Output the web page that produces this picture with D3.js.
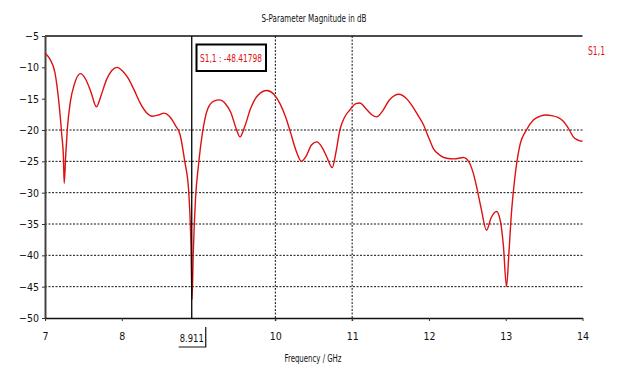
<!DOCTYPE html>
<html>
<head>
<meta charset="utf-8">
<script src="https://cdn.jsdelivr.net/npm/d3@7"></script>
<style>
  body { margin: 0; background: #fff; }
  text { font-family: "DejaVu Sans Condensed", "Liberation Sans Narrow", "Liberation Sans", sans-serif; }
</style>
</head>
<body>
<svg id="chart" width="627" height="367"></svg>
<script>
// ---- data ----
const freqGHz = [
  7.00, 7.06, 7.13, 7.18, 7.22, 7.24, 7.25, 7.27, 7.29, 7.33, 7.38, 7.46, 7.53, 7.60, 7.67,
  7.73, 7.80, 7.87, 7.94, 8.01, 8.08, 8.16, 8.24, 8.32, 8.40, 8.48, 8.55, 8.62, 8.70, 8.76,
  8.82, 8.87, 8.90, 8.915, 8.93, 8.96, 9.00, 9.05, 9.12, 9.20, 9.27, 9.35, 9.42, 9.49, 9.54,
  9.60, 9.68, 9.77, 9.89, 9.98, 10.06, 10.13, 10.20, 10.27, 10.34, 10.40, 10.47, 10.54, 10.61,
  10.67, 10.74, 10.79, 10.84, 10.90, 10.97, 11.05, 11.10, 11.18, 11.26, 11.32, 11.40, 11.48,
  11.55, 11.61, 11.70, 11.79, 11.86, 11.93, 12.00, 12.06, 12.14, 12.23, 12.33, 12.45, 12.53,
  12.58, 12.62, 12.68, 12.75, 12.81, 12.88, 12.93, 12.97, 13.01, 13.04, 13.07, 13.12, 13.18,
  13.27, 13.36, 13.45, 13.52, 13.60, 13.68, 13.75, 13.82, 13.88, 13.94, 14.00
];
const s11dB = [
  -7.7, -8.6, -10.9, -15.5, -21.0, -24.3, -28.5, -24.0, -20.0, -15.5, -12.8, -11.0, -11.9, -14.0, -16.3,
  -14.5, -12.0, -10.5, -10.0, -10.6, -11.7, -13.6, -15.7, -17.2, -17.8, -17.6, -17.3, -17.8, -19.3, -20.8,
  -25.0, -29.5, -38.0, -47.0, -40.0, -31.0, -25.5, -20.5, -16.6, -15.4, -15.2, -15.8, -17.2, -19.8, -21.1,
  -19.5, -16.5, -14.5, -13.7, -14.3, -15.8, -17.8, -20.5, -23.3, -25.0, -24.2, -22.4, -21.9, -22.8,
  -24.3, -26.0, -23.5, -20.0, -18.0, -16.8, -15.8, -15.7, -16.6, -17.6, -17.9, -16.9, -15.3,
  -14.5, -14.3, -14.9, -16.3, -17.7, -19.2, -21.3, -23.0, -24.0, -24.5, -24.6, -24.4, -25.3,
  -27.0, -29.0, -32.5, -36.0, -34.0, -33.0, -34.5, -38.5, -45.0, -40.0, -34.0, -27.5, -22.7,
  -20.0, -18.4, -17.8, -17.6, -17.7, -18.0, -18.6, -19.8, -21.1, -21.6, -21.8
];
const xTicks = [7, 8, 10, 11, 12, 13, 14];
const yTicks = [-5, -10, -15, -20, -25, -30, -35, -40, -45, -50];
const yGrid = [-20, -25, -30, -35, -40, -45];
const xGrid = [10, 11];
const markerFreq = 8.911;
const markerText = "S1,1 : -48.41798";
const seriesName = "S1,1";
const chartTitle = "S-Parameter Magnitude in dB";
const xTitle = "Frequency / GHz";

// ---- layout ----
const svg = d3.select("#chart");
const plotL = 45, plotR = 582.5, plotT = 36, plotB = 318;
const red = "#dd1111";

const x = d3.scaleLinear().domain([7, 14]).range([plotL, plotR]);
const y = d3.scaleLinear().domain([-5, -50]).range([plotT, plotB]);

// grid lines
svg.append("g").selectAll("line").data(yGrid).join("line")
  .attr("x1", plotL).attr("x2", plotR)
  .attr("y1", d => y(d)).attr("y2", d => y(d))
  .attr("stroke", "#111").attr("stroke-width", 1).attr("stroke-dasharray", "2,1.5");
svg.append("g").selectAll("line").data(xGrid).join("line")
  .attr("x1", d => x(d)).attr("x2", d => x(d))
  .attr("y1", plotT).attr("y2", plotB + 3)
  .attr("stroke", "#111").attr("stroke-width", 1).attr("stroke-dasharray", "2,1.5");

// frame: top, left and bottom
svg.append("line").attr("x1", plotL).attr("x2", plotR).attr("y1", plotT).attr("y2", plotT)
  .attr("stroke", "#111").attr("stroke-width", 1.5);

const yAxis = d3.axisLeft(y).tickValues(yTicks).tickSize(3).tickSizeOuter(0).tickFormat(d3.format("d"));
const gy = svg.append("g").attr("transform", `translate(${plotL},0)`).call(yAxis);
gy.select(".domain").attr("stroke", "#444").attr("stroke-width", 2);
gy.selectAll(".tick line").attr("stroke", "#333");
gy.selectAll(".tick text").attr("font-size", 10.5).attr("fill", "#111").attr("x", -6)
  .attr("font-family", "DejaVu Sans Condensed, sans-serif");

const xAxis = d3.axisBottom(x).tickValues(xTicks).tickSize(3).tickSizeOuter(0).tickFormat(d3.format("d"));
const gx = svg.append("g").attr("transform", `translate(0,${plotB})`).call(xAxis);
gx.select(".domain").attr("stroke", "#111").attr("stroke-width", 1.5);
gx.selectAll(".tick line").attr("stroke", "#333");
gx.selectAll(".tick text").attr("font-size", 10.5).attr("fill", "#111").attr("dy", "1.5em")
  .attr("font-family", "DejaVu Sans Condensed, sans-serif");

// curve
const pts = freqGHz.map((f, i) => [f, s11dB[i]]);
const line = d3.line().x(d => x(d[0])).y(d => y(d[1])).curve(d3.curveMonotoneX);
svg.append("path").datum(pts)
  .attr("d", line).attr("fill", "none").attr("stroke", red).attr("stroke-width", 1.4);

// marker cursor
const mx = x(markerFreq);
svg.append("line").attr("x1", mx).attr("x2", mx).attr("y1", plotT).attr("y2", plotB)
  .attr("stroke", "#000").attr("stroke-width", 1.3);
svg.append("rect").attr("x", 196.5).attr("y", 44.5).attr("width", 69.5).attr("height", 26.5)
  .attr("fill", "#fff").attr("stroke", "#000").attr("stroke-width", 2);
svg.append("text").attr("x", 231).attr("y", 62).attr("text-anchor", "middle")
  .attr("font-size", 10).attr("fill", red)
  .attr("textLength", 62).attr("lengthAdjust", "spacingAndGlyphs").text(markerText);

// marker frequency label below axis
svg.append("text").attr("x", mx).attr("y", 342).attr("text-anchor", "middle")
  .attr("font-size", 10.5).attr("fill", "#111")
  .attr("textLength", 24).attr("lengthAdjust", "spacingAndGlyphs").text(markerFreq.toFixed(3));
svg.append("path").attr("d", `M${mx - 13},347 H${mx + 14} V327`)
  .attr("fill", "none").attr("stroke", "#111").attr("stroke-width", 1.2);

// titles
svg.append("text").attr("x", 314).attr("y", 22).attr("text-anchor", "middle")
  .attr("font-size", 10).attr("fill", "#111")
  .attr("textLength", 105).attr("lengthAdjust", "spacingAndGlyphs").text(chartTitle);
svg.append("text").attr("x", 313).attr("y", 362).attr("text-anchor", "middle")
  .attr("font-size", 10).attr("fill", "#111")
  .attr("textLength", 57).attr("lengthAdjust", "spacingAndGlyphs").text(xTitle);
svg.append("text").attr("x", 588).attr("y", 55)
  .attr("font-size", 12.5).attr("fill", red)
  .attr("textLength", 17).attr("lengthAdjust", "spacingAndGlyphs").text(seriesName);
</script>
</body>
</html>
